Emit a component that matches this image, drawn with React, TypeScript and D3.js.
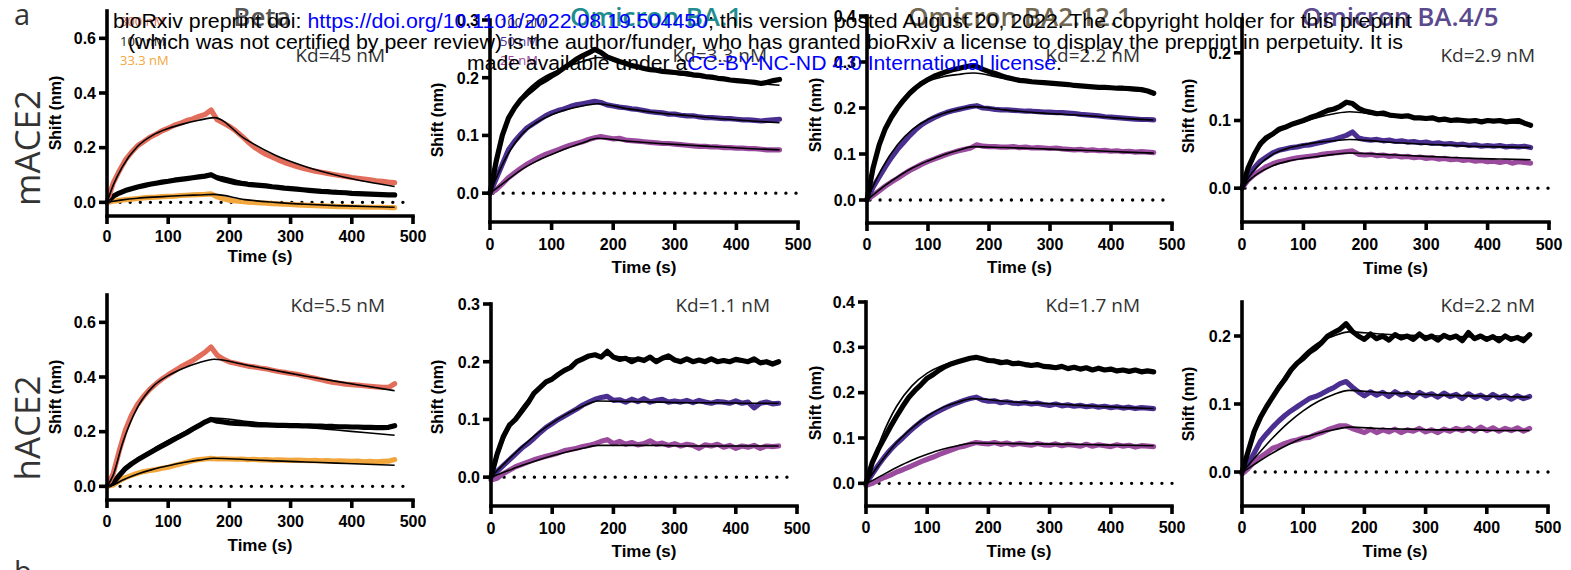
import React, { useEffect } from 'react';
import * as d3 from 'd3';

// ---------------- data ----------------
const TIMES = [0,10,20,30,40,50,60,70,80,90,100,110,120,130,140,150,160,170,180,190,200,210,220,230,240,250,260,270,280,290,300,310,320,330,340,350,360,370,380,390,400,410,420,430,440,450,460,470];
const FIT_TIMES = [0,10,25,50,75,100,125,150,175,225,275,325,375,425,470];
const X_TICKS = [0,100,200,300,400,500];

const VARIANTS = ['Beta','Omicron BA.1','Omicron BA2.12.1','Omicron BA.4/5'];
const ROWS = ['mACE2','hACE2'];
const BETA_CONC = ['300 nM','100 nM','33.3 nM'];
const OMICRON_CONC = ['100 nM','50 nM','25 nM'];
const KD_M = ['Kd=45 nM','Kd=3.3 nM','Kd=2.2 nM','Kd=2.9 nM'];
const KD_H = ['Kd=5.5 nM','Kd=1.1 nM','Kd=1.7 nM','Kd=2.2 nM'];
const Y_TICKS_BETA = [0,0.2,0.4,0.6];
const Y_TICKS_BA1 = [0,0.1,0.2,0.3];
const Y_TICKS_BA2 = [0,0.1,0.2,0.3,0.4];
const Y_TICKS_BA45 = [0,0.1,0.2];

// mACE2
const M_BETA_300 = [0.000,0.070,0.115,0.155,0.183,0.207,0.222,0.238,0.249,0.262,0.271,0.282,0.289,0.299,0.305,0.314,0.321,0.338,0.302,0.290,0.278,0.262,0.243,0.222,0.203,0.188,0.175,0.165,0.155,0.146,0.138,0.131,0.125,0.119,0.114,0.110,0.106,0.102,0.098,0.095,0.091,0.088,0.085,0.082,0.079,0.077,0.074,0.072];
const M_BETA_100 = [0.000,0.022,0.034,0.043,0.050,0.056,0.061,0.066,0.070,0.074,0.077,0.081,0.084,0.087,0.090,0.093,0.096,0.101,0.090,0.083,0.077,0.072,0.069,0.066,0.064,0.062,0.060,0.057,0.055,0.052,0.050,0.048,0.046,0.044,0.042,0.040,0.039,0.037,0.036,0.035,0.033,0.032,0.031,0.030,0.029,0.028,0.027,0.027];
const M_BETA_33 = [0.000,0.004,0.007,0.010,0.012,0.014,0.016,0.018,0.019,0.021,0.022,0.023,0.025,0.026,0.027,0.028,0.029,0.031,0.020,0.013,0.008,0.005,0.003,0.001,0.000,-0.002,-0.003,-0.005,-0.006,-0.007,-0.008,-0.009,-0.010,-0.011,-0.012,-0.013,-0.014,-0.015,-0.016,-0.016,-0.017,-0.017,-0.018,-0.018,-0.018,-0.018,-0.019,-0.019];
const M_BETA_300_FIT = [0,0.062,0.13,0.205,0.246,0.27,0.287,0.300,0.310,0.233,0.172,0.130,0.099,0.075,0.058];
const M_BETA_100_FIT = [0,0.02,0.038,0.055,0.066,0.075,0.083,0.09,0.096,0.074,0.058,0.047,0.038,0.031,0.026];
const M_BETA_33_FIT = [0,0.004,0.009,0.015,0.019,0.022,0.025,0.027,0.029,0.010,0.0,-0.007,-0.012,-0.015,-0.018];

const M_BA1_100 = [0.000,0.055,0.100,0.130,0.148,0.162,0.172,0.181,0.190,0.196,0.203,0.209,0.217,0.224,0.232,0.238,0.243,0.249,0.244,0.236,0.232,0.228,0.225,0.221,0.219,0.216,0.214,0.213,0.211,0.210,0.209,0.208,0.207,0.205,0.204,0.202,0.201,0.199,0.198,0.196,0.195,0.194,0.193,0.192,0.190,0.192,0.195,0.197];
const M_BA1_50 = [0.000,0.025,0.050,0.075,0.090,0.102,0.113,0.120,0.127,0.134,0.139,0.143,0.146,0.150,0.153,0.155,0.157,0.159,0.157,0.153,0.151,0.149,0.148,0.146,0.145,0.143,0.141,0.140,0.139,0.137,0.137,0.135,0.134,0.134,0.132,0.131,0.131,0.130,0.129,0.129,0.128,0.127,0.127,0.126,0.125,0.126,0.127,0.128];
const M_BA1_25 = [0.000,0.006,0.016,0.027,0.035,0.043,0.050,0.056,0.062,0.067,0.071,0.075,0.079,0.083,0.086,0.089,0.093,0.096,0.098,0.096,0.094,0.095,0.092,0.091,0.090,0.089,0.088,0.087,0.086,0.086,0.085,0.084,0.083,0.082,0.081,0.081,0.080,0.080,0.079,0.079,0.078,0.078,0.077,0.077,0.076,0.075,0.075,0.075];
const M_BA1_100_FIT = [0,0.06,0.115,0.165,0.192,0.208,0.219,0.228,0.235,0.222,0.211,0.203,0.197,0.191,0.187];
const M_BA1_50_FIT = [0,0.026,0.06,0.1,0.122,0.136,0.145,0.151,0.155,0.146,0.139,0.134,0.129,0.125,0.122];
const M_BA1_25_FIT = [0,0.008,0.02,0.04,0.055,0.067,0.078,0.087,0.095,0.09,0.086,0.083,0.08,0.077,0.075];

const M_BA2_100 = [0.000,0.070,0.120,0.155,0.180,0.200,0.217,0.232,0.244,0.254,0.262,0.269,0.274,0.279,0.283,0.286,0.289,0.292,0.290,0.284,0.279,0.275,0.270,0.266,0.263,0.260,0.259,0.257,0.256,0.255,0.254,0.253,0.252,0.251,0.249,0.248,0.247,0.246,0.245,0.245,0.244,0.243,0.243,0.242,0.241,0.240,0.237,0.232];
const M_BA2_50 = [0.000,0.028,0.050,0.072,0.092,0.110,0.125,0.140,0.153,0.164,0.172,0.179,0.185,0.190,0.194,0.197,0.200,0.203,0.205,0.200,0.199,0.197,0.196,0.196,0.195,0.194,0.193,0.193,0.192,0.191,0.191,0.190,0.190,0.189,0.188,0.186,0.185,0.184,0.183,0.181,0.180,0.179,0.178,0.177,0.176,0.175,0.175,0.174];
const M_BA2_25 = [0.000,0.010,0.020,0.030,0.039,0.047,0.056,0.064,0.071,0.078,0.084,0.089,0.094,0.099,0.103,0.107,0.110,0.113,0.120,0.117,0.116,0.116,0.115,0.115,0.116,0.114,0.115,0.113,0.114,0.113,0.112,0.113,0.111,0.110,0.109,0.110,0.108,0.109,0.107,0.108,0.106,0.107,0.105,0.106,0.104,0.105,0.104,0.103];
const M_BA2_100_FIT = [0,0.075,0.14,0.205,0.24,0.258,0.268,0.273,0.276,0.264,0.255,0.249,0.244,0.239,0.235];
const M_BA2_50_FIT = [0,0.03,0.07,0.12,0.154,0.175,0.188,0.197,0.203,0.196,0.19,0.186,0.182,0.177,0.174];
const M_BA2_25_FIT = [0,0.011,0.027,0.05,0.07,0.085,0.098,0.108,0.116,0.114,0.112,0.109,0.107,0.104,0.102];

const M_BA45_100 = [0.000,0.030,0.050,0.066,0.075,0.080,0.087,0.090,0.094,0.097,0.100,0.104,0.107,0.111,0.115,0.117,0.121,0.127,0.125,0.118,0.114,0.112,0.110,0.111,0.108,0.107,0.106,0.107,0.104,0.104,0.103,0.104,0.101,0.102,0.100,0.101,0.100,0.099,0.100,0.098,0.100,0.099,0.100,0.098,0.099,0.100,0.096,0.093];
const M_BA45_50 = [0.000,0.018,0.030,0.040,0.046,0.052,0.056,0.058,0.060,0.061,0.063,0.064,0.066,0.068,0.070,0.072,0.075,0.078,0.083,0.074,0.072,0.071,0.072,0.070,0.071,0.069,0.070,0.068,0.069,0.067,0.068,0.066,0.067,0.065,0.066,0.064,0.065,0.063,0.064,0.062,0.063,0.062,0.063,0.061,0.062,0.061,0.062,0.060];
const M_BA45_25 = [0.000,0.012,0.020,0.026,0.032,0.036,0.039,0.041,0.043,0.045,0.046,0.047,0.048,0.050,0.051,0.052,0.053,0.054,0.055,0.050,0.049,0.050,0.048,0.049,0.047,0.048,0.046,0.047,0.045,0.046,0.044,0.045,0.043,0.044,0.042,0.043,0.041,0.042,0.040,0.041,0.039,0.040,0.038,0.040,0.037,0.039,0.038,0.037];
const M_BA45_100_FIT = [0,0.028,0.055,0.078,0.09,0.098,0.105,0.11,0.113,0.108,0.104,0.101,0.099,0.097,0.095];
const M_BA45_50_FIT = [0,0.015,0.032,0.05,0.059,0.064,0.068,0.07,0.072,0.069,0.066,0.064,0.062,0.061,0.06];
const M_BA45_25_FIT = [0,0.01,0.021,0.033,0.04,0.044,0.047,0.05,0.052,0.05,0.048,0.046,0.044,0.043,0.042];

// hACE2
const H_BETA_300 = [0.000,0.045,0.130,0.205,0.260,0.300,0.330,0.355,0.375,0.393,0.408,0.422,0.436,0.448,0.460,0.475,0.490,0.510,0.480,0.465,0.455,0.450,0.445,0.440,0.437,0.433,0.430,0.425,0.420,0.417,0.413,0.410,0.405,0.400,0.395,0.390,0.385,0.380,0.377,0.374,0.372,0.370,0.368,0.366,0.364,0.362,0.362,0.375];
const H_BETA_100 = [0.000,0.012,0.040,0.065,0.082,0.097,0.110,0.123,0.136,0.148,0.160,0.172,0.184,0.196,0.210,0.222,0.235,0.245,0.238,0.236,0.232,0.230,0.229,0.228,0.226,0.225,0.225,0.224,0.223,0.223,0.222,0.222,0.221,0.221,0.220,0.220,0.219,0.219,0.218,0.218,0.217,0.217,0.216,0.216,0.215,0.215,0.216,0.222];
const H_BETA_33 = [0.000,0.005,0.020,0.032,0.040,0.048,0.054,0.058,0.061,0.066,0.070,0.076,0.082,0.088,0.094,0.098,0.100,0.102,0.100,0.101,0.100,0.099,0.100,0.098,0.099,0.097,0.098,0.096,0.097,0.096,0.095,0.096,0.095,0.094,0.095,0.093,0.094,0.092,0.093,0.092,0.091,0.092,0.090,0.091,0.090,0.091,0.092,0.098];
const H_BETA_300_FIT = [0,0.04,0.155,0.29,0.365,0.405,0.432,0.452,0.465,0.445,0.424,0.403,0.384,0.366,0.35];
const H_BETA_100_FIT = [0,0.012,0.05,0.095,0.135,0.168,0.197,0.225,0.25,0.238,0.227,0.216,0.206,0.196,0.187];
const H_BETA_33_FIT = [0,0.005,0.022,0.045,0.062,0.075,0.087,0.096,0.103,0.098,0.093,0.089,0.085,0.081,0.077];

const H_BA1_100 = [0.000,0.040,0.070,0.090,0.100,0.114,0.128,0.145,0.155,0.165,0.170,0.178,0.185,0.190,0.200,0.205,0.210,0.212,0.208,0.218,0.208,0.204,0.206,0.200,0.205,0.202,0.208,0.200,0.206,0.210,0.203,0.200,0.205,0.200,0.203,0.200,0.205,0.200,0.202,0.200,0.204,0.202,0.200,0.205,0.198,0.200,0.196,0.200];
const H_BA1_50 = [0.000,0.010,0.020,0.030,0.040,0.050,0.058,0.067,0.077,0.086,0.093,0.100,0.106,0.112,0.118,0.125,0.130,0.135,0.138,0.140,0.133,0.134,0.130,0.135,0.131,0.136,0.130,0.133,0.135,0.130,0.132,0.130,0.133,0.129,0.133,0.130,0.128,0.131,0.130,0.128,0.132,0.128,0.130,0.120,0.128,0.130,0.127,0.128];
const H_BA1_25 = [-0.005,-0.002,0.006,0.012,0.018,0.022,0.026,0.030,0.033,0.036,0.039,0.042,0.046,0.048,0.050,0.053,0.055,0.058,0.062,0.065,0.058,0.062,0.057,0.060,0.056,0.058,0.063,0.057,0.059,0.055,0.058,0.054,0.057,0.055,0.050,0.056,0.054,0.057,0.052,0.055,0.050,0.054,0.052,0.055,0.050,0.054,0.053,0.054];
const H_BA1_100_FIT = [0,0.035,0.075,0.12,0.15,0.172,0.19,0.203,0.212,0.207,0.205,0.203,0.202,0.2,0.2];
const H_BA1_50_FIT = [0,0.011,0.027,0.052,0.075,0.094,0.11,0.123,0.132,0.131,0.13,0.129,0.129,0.128,0.128];
const H_BA1_25_FIT = [0,0.004,0.01,0.02,0.029,0.037,0.044,0.05,0.055,0.055,0.055,0.054,0.054,0.054,0.054];

const H_BA2_100 = [0.000,0.045,0.075,0.100,0.125,0.148,0.170,0.190,0.205,0.218,0.232,0.240,0.250,0.258,0.264,0.268,0.272,0.276,0.278,0.275,0.271,0.270,0.266,0.268,0.264,0.265,0.262,0.260,0.262,0.258,0.257,0.255,0.258,0.253,0.256,0.252,0.255,0.250,0.254,0.250,0.252,0.248,0.250,0.247,0.250,0.246,0.248,0.246];
const H_BA2_50 = [0.000,0.020,0.040,0.058,0.074,0.088,0.100,0.113,0.125,0.136,0.145,0.153,0.160,0.167,0.173,0.178,0.183,0.187,0.190,0.184,0.181,0.182,0.178,0.180,0.177,0.176,0.178,0.175,0.177,0.174,0.172,0.175,0.171,0.173,0.170,0.172,0.169,0.171,0.168,0.170,0.167,0.169,0.166,0.168,0.165,0.167,0.166,0.165];
const H_BA2_25 = [-0.005,0.000,0.007,0.013,0.018,0.025,0.030,0.036,0.042,0.048,0.053,0.058,0.064,0.069,0.074,0.079,0.082,0.086,0.090,0.088,0.087,0.090,0.086,0.089,0.085,0.088,0.086,0.084,0.088,0.085,0.084,0.087,0.083,0.086,0.084,0.082,0.086,0.082,0.085,0.083,0.081,0.085,0.082,0.084,0.080,0.083,0.082,0.081];
const H_BA2_100_FIT = [0,0.045,0.1,0.17,0.215,0.243,0.26,0.27,0.276,0.27,0.263,0.257,0.252,0.249,0.246];
const H_BA2_50_FIT = [0,0.02,0.048,0.09,0.122,0.148,0.167,0.179,0.187,0.181,0.177,0.174,0.17,0.167,0.165];
const H_BA2_25_FIT = [0,0.006,0.017,0.035,0.051,0.064,0.075,0.083,0.089,0.088,0.087,0.086,0.085,0.084,0.083];

const H_BA45_100 = [0.000,0.030,0.060,0.080,0.096,0.110,0.124,0.136,0.150,0.160,0.167,0.176,0.182,0.190,0.200,0.205,0.210,0.218,0.207,0.200,0.195,0.203,0.196,0.200,0.194,0.202,0.197,0.200,0.195,0.203,0.196,0.200,0.194,0.201,0.197,0.200,0.193,0.205,0.196,0.200,0.195,0.199,0.193,0.200,0.195,0.198,0.193,0.202];
const H_BA45_50 = [0.000,0.012,0.028,0.045,0.056,0.066,0.075,0.083,0.090,0.096,0.102,0.108,0.111,0.115,0.120,0.124,0.130,0.133,0.125,0.118,0.112,0.118,0.113,0.117,0.111,0.118,0.113,0.116,0.110,0.117,0.112,0.115,0.110,0.116,0.111,0.114,0.108,0.115,0.110,0.113,0.108,0.114,0.109,0.112,0.107,0.112,0.108,0.111];
const H_BA45_25 = [-0.003,0.005,0.015,0.022,0.028,0.035,0.038,0.042,0.045,0.047,0.050,0.051,0.055,0.058,0.062,0.065,0.068,0.068,0.064,0.061,0.058,0.063,0.058,0.062,0.059,0.063,0.058,0.062,0.060,0.064,0.059,0.062,0.058,0.063,0.060,0.064,0.061,0.065,0.060,0.066,0.061,0.065,0.060,0.064,0.061,0.065,0.060,0.064];
const H_BA45_100_FIT = [0,0.028,0.066,0.112,0.147,0.172,0.19,0.2,0.206,0.203,0.201,0.2,0.199,0.199,0.198];
const H_BA45_50_FIT = [0,0.01,0.025,0.05,0.072,0.09,0.104,0.114,0.12,0.117,0.115,0.113,0.112,0.111,0.11];
const H_BA45_25_FIT = [0,0.005,0.014,0.028,0.04,0.05,0.057,0.062,0.066,0.064,0.063,0.062,0.062,0.061,0.061];

// ---------------- styles / layout ----------------
const RED = '#e26d5a';
const BLACK = '#000000';
const ORANGE = '#f2a73e';
const PURPLE = '#4a2f91';
const MAGENTA = '#9b4b9e';
const TITLE_COLORS = ['#555555', '#1f8d8d', '#6f6752', '#5a4a8e'];
const TITLE_X = [262, 656, 1020, 1400];

const LAYOUT = [
  { x0: 107, x1: 413, yB: 216, yT: 11, tickBase: 242, timeBase: 262, shiftX: 61, shiftY: 113, kdX: 385, kdY: 62 },
  { x0: 490, x1: 798, yB: 222, yT: 20, tickBase: 250, timeBase: 273, shiftX: 443, shiftY: 120, kdX: 767, kdY: 62 },
  { x0: 867, x1: 1172, yB: 223, yT: 16, tickBase: 250, timeBase: 273, shiftX: 821, shiftY: 115, kdX: 1140, kdY: 62 },
  { x0: 1242, x1: 1549, yB: 222, yT: 19, tickBase: 250, timeBase: 274, shiftX: 1194, shiftY: 116, kdX: 1535, kdY: 62 },
  { x0: 107, x1: 413, yB: 500, yT: 295, tickBase: 527, timeBase: 551, shiftX: 61, shiftY: 397, kdX: 385, kdY: 312 },
  { x0: 491, x1: 797, yB: 506, yT: 304, tickBase: 534, timeBase: 557, shiftX: 443, shiftY: 397, kdX: 770, kdY: 312 },
  { x0: 866, x1: 1172, yB: 506, yT: 302, tickBase: 533, timeBase: 557, shiftX: 821, shiftY: 403, kdX: 1140, kdY: 312 },
  { x0: 1242, x1: 1548, yB: 506, yT: 302, tickBase: 533, timeBase: 557, shiftX: 1194, shiftY: 404, kdX: 1535, kdY: 312 },
];

type Series = { data: number[]; fit: number[]; color: string };
type Panel = { series: Series[]; yTicks: number[]; kd: string; legend?: string[] };

const PANELS: Panel[] = [
  { yTicks: Y_TICKS_BETA, kd: KD_M[0], legend: BETA_CONC, series: [
    { data: M_BETA_300, fit: M_BETA_300_FIT, color: RED },
    { data: M_BETA_100, fit: M_BETA_100_FIT, color: BLACK },
    { data: M_BETA_33, fit: M_BETA_33_FIT, color: ORANGE } ] },
  { yTicks: Y_TICKS_BA1, kd: KD_M[1], legend: OMICRON_CONC, series: [
    { data: M_BA1_100, fit: M_BA1_100_FIT, color: BLACK },
    { data: M_BA1_50, fit: M_BA1_50_FIT, color: PURPLE },
    { data: M_BA1_25, fit: M_BA1_25_FIT, color: MAGENTA } ] },
  { yTicks: Y_TICKS_BA2, kd: KD_M[2], series: [
    { data: M_BA2_100, fit: M_BA2_100_FIT, color: BLACK },
    { data: M_BA2_50, fit: M_BA2_50_FIT, color: PURPLE },
    { data: M_BA2_25, fit: M_BA2_25_FIT, color: MAGENTA } ] },
  { yTicks: Y_TICKS_BA45, kd: KD_M[3], series: [
    { data: M_BA45_100, fit: M_BA45_100_FIT, color: BLACK },
    { data: M_BA45_50, fit: M_BA45_50_FIT, color: PURPLE },
    { data: M_BA45_25, fit: M_BA45_25_FIT, color: MAGENTA } ] },
  { yTicks: Y_TICKS_BETA, kd: KD_H[0], series: [
    { data: H_BETA_300, fit: H_BETA_300_FIT, color: RED },
    { data: H_BETA_100, fit: H_BETA_100_FIT, color: BLACK },
    { data: H_BETA_33, fit: H_BETA_33_FIT, color: ORANGE } ] },
  { yTicks: Y_TICKS_BA1, kd: KD_H[1], series: [
    { data: H_BA1_100, fit: H_BA1_100_FIT, color: BLACK },
    { data: H_BA1_50, fit: H_BA1_50_FIT, color: PURPLE },
    { data: H_BA1_25, fit: H_BA1_25_FIT, color: MAGENTA } ] },
  { yTicks: Y_TICKS_BA2, kd: KD_H[2], series: [
    { data: H_BA2_100, fit: H_BA2_100_FIT, color: BLACK },
    { data: H_BA2_50, fit: H_BA2_50_FIT, color: PURPLE },
    { data: H_BA2_25, fit: H_BA2_25_FIT, color: MAGENTA } ] },
  { yTicks: Y_TICKS_BA45, kd: KD_H[3], series: [
    { data: H_BA45_100, fit: H_BA45_100_FIT, color: BLACK },
    { data: H_BA45_50, fit: H_BA45_50_FIT, color: PURPLE },
    { data: H_BA45_25, fit: H_BA45_25_FIT, color: MAGENTA } ] },
];

const Y_MAX = [0.7, 0.3, 0.4, 0.25, 0.7, 0.3, 0.4, 0.25];
const LEGEND_POS = [ { x: 120, ys: [26, 45.5, 65] }, { x: 500, ys: [27, 46, 65] } ];

const AX_FONT = '"Liberation Sans", Arial, Helvetica, sans-serif';
const OS_FONT = '"Open Sans", "Noto Sans", sans-serif';

function fmt(v: number) { return v.toFixed(1); }

function PanelView({ p, i }: { p: Panel; i: number }) {
  const L = LAYOUT[i];
  const x = d3.scaleLinear().domain([0, 500]).range([L.x0, L.x1]);
  const y = d3.scaleLinear().domain([-0.05, Y_MAX[i]]).range([L.yB, L.yT]);
  const dataLine = d3.line<number>().x((_, k) => x(TIMES[k])).y(d => y(d));
  const fitLine = d3.line<number>().x((_, k) => x(FIT_TIMES[k])).y(d => y(d)).curve(d3.curveMonotoneX);
  const drawOrder = [...p.series].reverse();
  const sw = 3.6;
  return (
    <g>
      {/* dotted zero line */}
      <line x1={x(0) + 3} x2={x(500)} y1={y(0)} y2={y(0)} stroke="#000" strokeWidth={3.4}
        strokeDasharray="0 10.1" strokeLinecap="round" />
      {drawOrder.map((s, k) => (
        <path key={'d' + k} d={dataLine(s.data) || ''} fill="none" stroke={s.color} strokeWidth={5.2}
          strokeLinejoin="round" strokeLinecap="round" />
      ))}
      {drawOrder.map((s, k) => (
        <path key={'f' + k} d={fitLine(s.fit) || ''} fill="none" stroke="#000" strokeWidth={1.6} />
      ))}
      {/* axes */}
      <line x1={L.x0} x2={L.x0} y1={L.yB} y2={L.yT} stroke="#000" strokeWidth={sw} strokeLinecap="square" />
      <line x1={L.x0} x2={L.x1} y1={L.yB} y2={L.yB} stroke="#000" strokeWidth={sw} strokeLinecap="square" />
      {p.yTicks.map(t => (
        <g key={'yt' + t}>
          <line x1={L.x0 - 8} x2={L.x0} y1={y(t)} y2={y(t)} stroke="#000" strokeWidth={sw} />
          <text x={L.x0 - 11} y={y(t) + 5.8} textAnchor="end" fontFamily={AX_FONT} fontWeight="bold" fontSize={16}>{fmt(t)}</text>
        </g>
      ))}
      {X_TICKS.map(t => (
        <g key={'xt' + t}>
          <line x1={x(t)} x2={x(t)} y1={L.yB} y2={L.yB + 8} stroke="#000" strokeWidth={sw} />
          <text x={x(t)} y={L.tickBase} textAnchor="middle" fontFamily={AX_FONT} fontWeight="bold" fontSize={16}>{t}</text>
        </g>
      ))}
      <text x={(L.x0 + L.x1) / 2} y={L.timeBase} textAnchor="middle" fontFamily={AX_FONT} fontWeight="bold" fontSize={17}>Time (s)</text>
      <text transform={`translate(${L.shiftX},${L.shiftY}) rotate(-90)`} textAnchor="middle" fontFamily={AX_FONT} fontWeight="bold" fontSize={16}>Shift (nm)</text>
      <text x={L.kdX} y={L.kdY} textAnchor="end" fontFamily={OS_FONT} fontSize={19} fill="#333">{p.kd}</text>
      {p.legend && p.legend.map((lab, k) => (
        <text key={'lg' + k} x={LEGEND_POS[i].x} y={LEGEND_POS[i].ys[k]} fontFamily={OS_FONT} fontSize={13}
          fill={p.series[k].color === BLACK ? '#222' : p.series[k].color}>{lab}</text>
      ))}
    </g>
  );
}

export default function App() {
  useEffect(() => { document.body.style.margin = '0'; }, []);
  return (
    <svg width={1571} height={570} viewBox="0 0 1571 570"
      style={{ position: 'absolute', left: 0, top: 0, display: 'block', background: '#fff' }}>
      <rect x={0} y={0} width={1571} height={570} fill="#fff" />
      <text x={14} y={25} fontFamily={OS_FONT} fontSize={29} fill="#333">a</text>
      <text x={14} y={582} fontFamily={OS_FONT} fontSize={29} fill="#333">b</text>
      {ROWS.map((r, k) => (
        <text key={r} transform={`translate(${40},${k === 0 ? 148 : 428}) rotate(-90)`} textAnchor="middle"
          fontFamily={OS_FONT} fontSize={35} fill="#333">{r}</text>
      ))}
      {PANELS.map((p, i) => <PanelView key={i} p={p} i={i} />)}
      {VARIANTS.map((v, k) => (
        <text key={v} x={TITLE_X[k]} y={26} textAnchor="middle" fontFamily={OS_FONT} fontWeight={600}
          fontSize={26} fill={TITLE_COLORS[k]}>{v}</text>
      ))}
      {/* preprint watermark */}
      <g fontFamily={AX_FONT} fontSize={20} fill="#000">
        <text x={113} y={28} textLength={1299} lengthAdjust="spacingAndGlyphs">
          bioRxiv preprint doi: <tspan fill="#0000ff">https://doi.org/10.1101/2022.08.19.504450</tspan>; this version posted August 20, 2022. The copyright holder for this preprint
        </text>
        <text x={128} y={49} textLength={1275} lengthAdjust="spacingAndGlyphs">
          (which was not certified by peer review) is the author/funder, who has granted bioRxiv a license to display the preprint in perpetuity. It is
        </text>
        <text x={467} y={70} textLength={595} lengthAdjust="spacingAndGlyphs">
          made available under a<tspan fill="#0000ff">CC-BY-NC-ND 4.0 International license</tspan>.
        </text>
      </g>
    </svg>
  );
}
